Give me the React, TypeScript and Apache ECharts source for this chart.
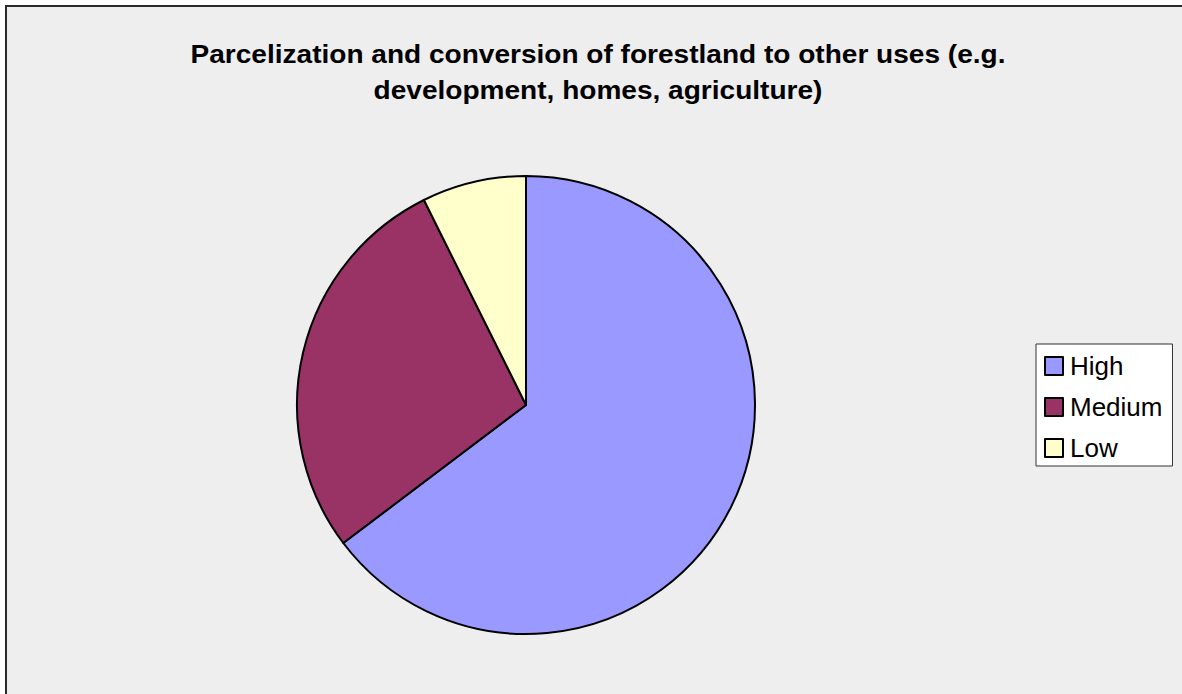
import React, { useEffect, useRef } from "react";
import * as echarts from "echarts";

// Share of responses rating the threat
const categories = ["High", "Medium", "Low"];
const responses = [44, 19, 5];
const sliceColors = ["#9999FF", "#993366", "#FFFFCC"];
const titleLines = [
  "Parcelization and conversion of forestland to other uses (e.g.",
  "development, homes, agriculture)",
];

const FONT = "'Liberation Sans', Arial, sans-serif";

export default function App() {
  const ref = useRef<HTMLDivElement>(null);

  useEffect(() => {
    if (!ref.current) return;
    const chart = echarts.init(ref.current, null, { renderer: "svg" });
    chart.setOption({
      animation: false,
      backgroundColor: "#ffffff",
      graphic: [
        {
          type: "rect",
          z: -10,
          silent: true,
          shape: { x: 6, y: 6, width: 1220, height: 740 },
          style: { fill: "#eeeeee", stroke: "#2a2a2a", lineWidth: 2 },
        },
        {
          // slightly widened bold title, two centred lines
          type: "text",
          x: 598,
          y: 36,
          scaleX: 1.1,
          style: {
            text: titleLines.join("\n"),
            font: `bold 25.5px ${FONT}`,
            fill: "#000000",
            align: "center",
            verticalAlign: "top",
            lineHeight: 36,
          },
        },
      ],
      legend: {
        orient: "vertical",
        left: 1036,
        top: 344,
        padding: [9, 10, 5, 8],
        itemGap: 15,
        itemWidth: 18,
        itemHeight: 18,
        icon: "rect",
        backgroundColor: "#ffffff",
        borderColor: "#333333",
        borderWidth: 1,
        borderRadius: 0,
        itemStyle: { borderColor: "#000000", borderWidth: 2 },
        textStyle: {
          fontFamily: FONT,
          fontSize: 26,
          lineHeight: 24,
          color: "#000000",
          padding: [0, 0, 0, 2],
        },
        data: categories,
      },
      series: [
        {
          type: "pie",
          center: [526, 405],
          radius: 229,
          startAngle: 90,
          clockwise: true,
          label: { show: false },
          labelLine: { show: false },
          emphasis: { disabled: true },
          itemStyle: { borderColor: "#000000", borderWidth: 2 },
          data: categories.map((name, i) => ({
            name,
            value: responses[i],
            itemStyle: { color: sliceColors[i] },
          })),
        },
      ],
    });
    return () => chart.dispose();
  }, []);

  return (
    <div
      ref={ref}
      style={{ position: "fixed", left: 0, top: 0, width: 1182, height: 694 }}
    />
  );
}
